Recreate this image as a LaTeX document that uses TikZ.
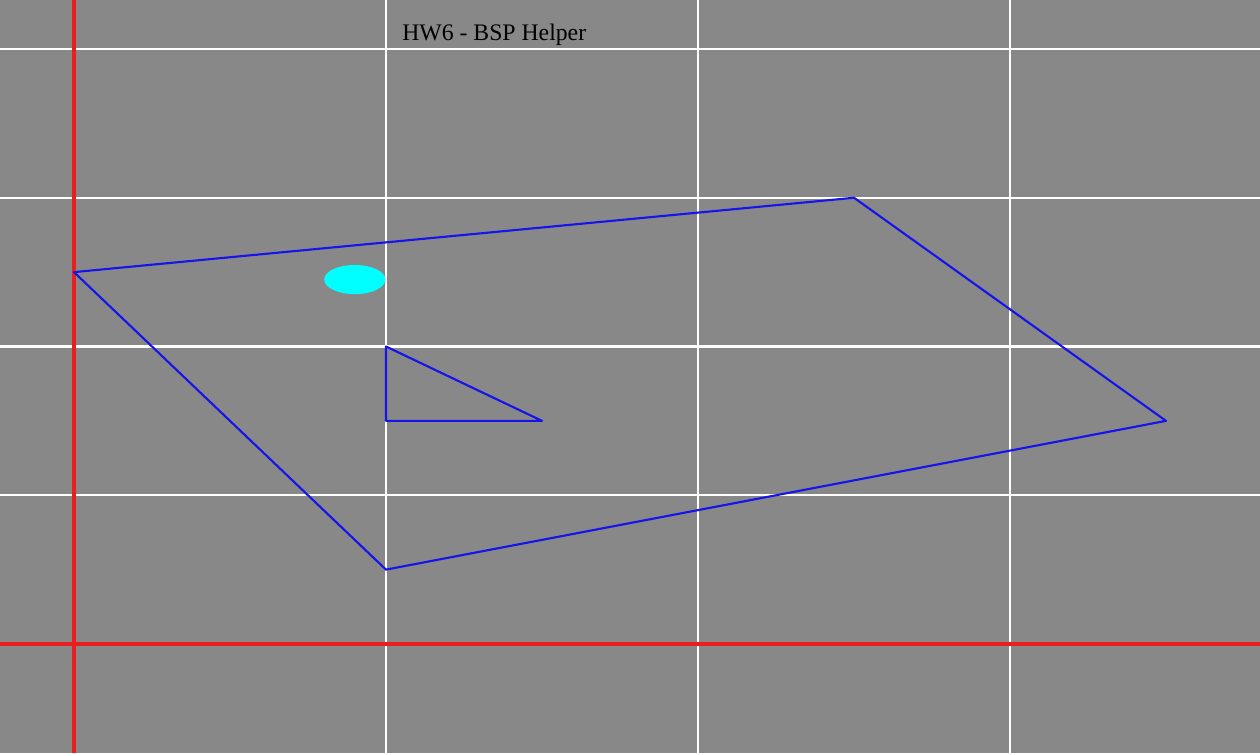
\documentclass[tikz,border=0pt]{standalone}
\usepackage{fontspec}
\setmainfont{Liberation Serif}
\usetikzlibrary{calc}

\definecolor{bgGray}{RGB}{136,136,136}
\definecolor{polyBlue}{RGB}{20,20,235}
\definecolor{axisRed}{RGB}{235,30,30}
\definecolor{pointCyan}{RGB}{0,255,255}

\begin{document}
\begin{tikzpicture}[x=6.24cm, y=2.975cm]

% Parameters (frame in cm)
\def\fl{-1.48cm}
\def\fr{23.72cm}
\def\fb{-2.18cm}
\def\ft{12.88cm}

% Background
\fill[bgGray] (\fl,\fb) rectangle (\fr,\ft);
\useasboundingbox (\fl,\fb) rectangle (\fr,\ft);

% Grid
\foreach \i in {1,2,3}
  \draw[white, line width=1.2pt] ([yshift=\fb]\i,0) -- ([yshift=\ft]\i,0);
\foreach \j in {1,...,4}
  \draw[white, line width=1.2pt] ([xshift=\fl]0,\j) -- ([xshift=\fr]0,\j);

% Axes
\draw[axisRed, line width=1.8pt] ([yshift=\fb]0,0) -- ([yshift=\ft]0,0);
\draw[axisRed, line width=1.8pt] ([xshift=\fl]0,0) -- ([xshift=\fr]0,0);

% Title
\node[anchor=base west, inner sep=0pt, font=\fontsize{13.5pt}{16pt}\selectfont] (title) at (6.56cm,12.06cm) {HW6 - BSP Helper};

% Quadrilateral
\coordinate (A) at (0,2.5);
\coordinate (B) at (2.5,3);
\coordinate (C) at (3.5,1.5);
\coordinate (D) at (1,0.5);
\draw[polyBlue, line width=1.2pt, line join=round] (A) -- (B) -- (C) -- (D) -- cycle;

% Triangle
\coordinate (T1) at (1,2);
\coordinate (T2) at (1,1.5);
\coordinate (T3) at (1.5,1.5);
\draw[polyBlue, line width=1.2pt, line join=round] (T1) -- (T2) -- (T3) -- cycle;

% Point
\fill[pointCyan] (0.9,2.45) ellipse[x radius=0.098, y radius=0.098];

\end{tikzpicture}
\end{document}
